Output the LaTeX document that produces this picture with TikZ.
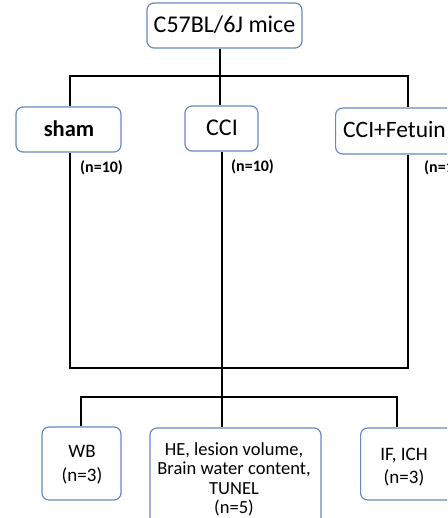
\documentclass[tikz,border=0pt]{standalone}
\usepackage{fontspec}
\setmainfont{Carlito}
\definecolor{boxblue}{RGB}{105,135,192}
\begin{document}
\begin{tikzpicture}[x=1pt,y=-1pt,
  box/.style={draw=boxblue,line width=1.2pt,rounded corners=7pt,inner sep=0pt,fill=white},
  txt/.style={inner sep=0pt,align=center},
  conn/.style={draw=black,line width=1.7pt},
  nlab/.style={font=\fontsize{16}{18}\selectfont\bfseries,inner sep=0pt}]
\useasboundingbox (0,0) rectangle (447,518);
\clip (0,0) rectangle (447,518);
\fill[white] (0,0) rectangle (447,518);
% junction coordinates
\coordinate (h1L) at (70,76);
\coordinate (h1C) at (220,76);
\coordinate (h1R) at (408,76);
\coordinate (h2L) at (70,368);
\coordinate (h2C) at (222,368);
\coordinate (h2R) at (408,368);
\coordinate (h3L) at (81,397);
\coordinate (h3C) at (222,397);
\coordinate (h3R) at (397,397);
% boxes
\node[box,minimum width=155pt,minimum height=45pt] (top) at (224.5,25.5) {};
\node[box,minimum width=105pt,minimum height=45pt] (sham) at (68.5,129.5) {};
\node[box,minimum width=73pt,minimum height=45pt] (cci) at (221.5,128.5) {};
\node[box,minimum width=130pt,minimum height=46pt,anchor=west] (fet) at (335,131) {};
\node[box,minimum width=79pt,minimum height=73pt] (wb) at (81.5,463.5) {};
\node[box,minimum width=171pt,minimum height=100pt] (mid) at (235.5,478) {};
\node[box,minimum width=100pt,minimum height=72pt,anchor=west] (iff) at (360,464) {};
% texts
\node[txt,font=\fontsize{24}{24}\selectfont] (ttop) at (224.5,25) {C57BL/6J mice};
\node[txt,font=\fontsize{22.5}{24}\selectfont\bfseries] (tsham) at (69,129) {sham};
\node[txt,font=\fontsize{24}{24}\selectfont] (tcci) at (222,128) {CCI};
\node[txt,font=\fontsize{23.5}{24}\selectfont,anchor=west] (tfet) at (343,130) {CCI+Fetuin};
\node[nlab,anchor=west] (n1) at (80,168) {(n=10)};
\node[nlab,anchor=west] (n2) at (231,167) {(n=10)};
\node[nlab,anchor=west] (n3) at (424,168) {(n=10)};
\node[txt,font=\fontsize{19}{24}\selectfont] (twb) at (82,465) {WB\\(n=3)};
\node[txt,font=\fontsize{18.5}{19.5}\selectfont] (tmid) at (234,479.5) {HE, lesion volume,\\Brain water content,\\TUNEL\\(n=5)};
\node[txt,font=\fontsize{19}{23}\selectfont] (tiff) at (404,467) {IF, ICH\\(n=3)};
% connectors
\draw[conn] (top.south -| h1C) -- (cci.north -| h1C);
\draw[conn] (h1L |- sham.north) -- (h1L) -- (h1R) -- (h1R |- fet.north);
\draw[conn] (h2L |- sham.south) -- (h2L) -- (h2R) -- (h2R |- fet.south);
\draw[conn] (h2C |- cci.south) -- (h2C) -- (h3C) -- (h3C |- mid.north);
\draw[conn] (h3L |- wb.north) -- (h3L) -- (h3R) -- (h3R |- iff.north);
\end{tikzpicture}
\end{document}
